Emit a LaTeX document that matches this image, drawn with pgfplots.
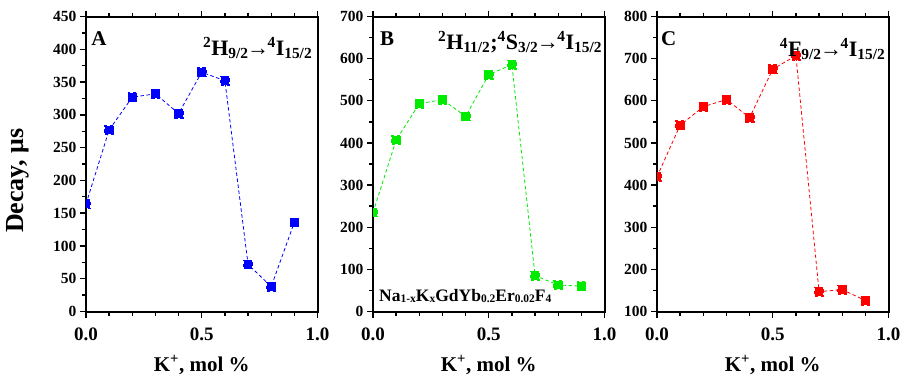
\documentclass[border=0pt]{standalone}
\usepackage{fontspec}
\setmainfont{Liberation Serif}
\usepackage{pgfplots}
\pgfplotsset{compat=1.18}
\definecolor{cblue}{RGB}{0,0,255}
\definecolor{cgreen}{RGB}{0,235,0}
\definecolor{cred}{RGB}{255,0,0}
\newcommand{\fs}[1]{\fontsize{#1}{#1}\selectfont}
\newcommand{\sbx}[1]{\raisebox{-0.15ex}{\fs{11.5}#1}}
\pgfplotsset{
  panel/.style={
    scale only axis, width=231.5pt, height=295pt,
    xmin=0, xmax=1, xtick={0,0.5,1}, xticklabels={0.0,0.5,1.0},
    minor x tick num=4, minor y tick num=1,
    xtick pos=both, ytick pos=left, tick align=outside,
    axis line style={line width=2pt},
    major tick style={line width=1.4pt, black},
    minor tick style={line width=1.4pt, black},
    major tick length=6pt, minor tick length=4pt,
    /pgf/number format/assume math mode=true,
    xticklabel style={font=\bfseries\fs{19}, yshift=-7pt},
    yticklabel={\bfseries\fs{15.5}\pgfmathprintnumber[assume math mode=true]{\tick}},
    xlabel={K\textsuperscript{+}, mol \%},
    xlabel style={font=\bfseries\fs{21}, at={(axis description cs:0.5,-0.181)}, anchor=center},
    clip marker paths=true,
    clip mode=individual,
    every axis plot/.append style={dash pattern=on 3.5pt off 2.5pt, line width=0.8pt,
      mark=square*, mark size=4.4pt, mark options={solid}},
  }
}
\begin{document}
\begin{tikzpicture}
\path[use as bounding box] (-86pt,-63.5pt) rectangle (815pt,311.5pt);
% Panel A
\begin{axis}[panel, at={(0pt,0pt)}, anchor=south west,
  ymin=0, ymax=450, ytick distance=50,
  ylabel={Decay, μs},
  ylabel style={font=\bfseries\fs{26}, at={(axis description cs:-0.294,0.443)}, anchor=center}]
\addplot[color=cblue, mark options={fill=cblue}] coordinates {
 (0,164) (0.1,277) (0.2,327) (0.3,332) (0.4,302) (0.5,365) (0.6,352) (0.7,72) (0.8,38) (0.9,136)};
\node[anchor=north west, inner sep=0pt, font=\bfseries\fs{21}] at (rel axis cs:0.022,0.948) {A};
\node[anchor=north east, inner sep=0pt, font=\bfseries\fs{22}] at (rel axis cs:0.978,0.93)
  {\textsuperscript{2}H\textsubscript{9/2}\kern-1.5pt→\kern-1.5pt\textsuperscript{4}I\textsubscript{15/2}};
\end{axis}
% Panel B
\begin{axis}[panel, at={(287pt,0pt)}, anchor=south west,
  ymin=0, ymax=700, ytick distance=100]
\addplot[color=cgreen, mark options={fill=cgreen}] coordinates {
 (0,235) (0.1,407) (0.2,493) (0.3,503) (0.4,463) (0.5,562) (0.6,586) (0.7,85) (0.8,63) (0.9,60)};
\node[anchor=north west, inner sep=0pt, font=\bfseries\fs{21}] at (rel axis cs:0.03,0.948) {B};
\node[anchor=north east, inner sep=0pt, font=\bfseries\fs{22}] at (rel axis cs:0.99,0.95)
  {\textsuperscript{2}H\textsubscript{11/2};\textsuperscript{4}S\textsubscript{3/2}\kern-1.5pt→\kern-1.5pt\textsuperscript{4}I\textsubscript{15/2}};
\node[anchor=south west, inner sep=0pt, font=\bfseries\fs{17.5}] at (rel axis cs:0.026,0.03)
  {Na\sbx{1-x}K\sbx{x}GdYb\sbx{0.2}Er\sbx{0.02}F\sbx{4}};
\end{axis}
% Panel C
\begin{axis}[panel, at={(571pt,0pt)}, anchor=south west,
  ymin=100, ymax=800, ytick distance=100]
\addplot[color=cred, mark options={fill=cred}] coordinates {
 (0,420) (0.1,542) (0.2,586) (0.3,603) (0.4,560) (0.5,675) (0.6,707) (0.7,147) (0.8,152) (0.9,126)};
\node[anchor=north west, inner sep=0pt, font=\bfseries\fs{21}] at (rel axis cs:0.017,0.948) {C};
\node[anchor=north east, inner sep=0pt, font=\bfseries\fs{22}] at (rel axis cs:0.987,0.925)
  {\textsuperscript{4}F\textsubscript{9/2}\kern-1.5pt→\kern-1.5pt\textsuperscript{4}I\textsubscript{15/2}};
\end{axis}
\end{tikzpicture}
\end{document}
